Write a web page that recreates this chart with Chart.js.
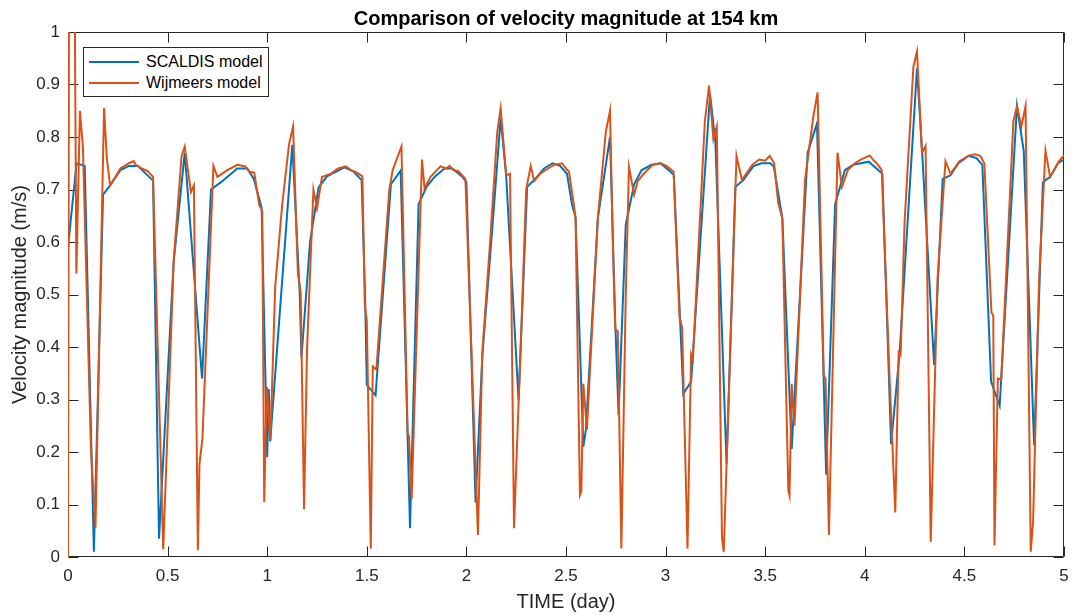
<!DOCTYPE html>
<html>
<head>
<meta charset="utf-8">
<script src="https://cdn.jsdelivr.net/npm/chart.js@4.4.1/dist/chart.umd.min.js"></script>
<style>
  html, body { margin: 0; padding: 0; background: #fff; }
  #wrap { position: relative; width: 1075px; height: 616px; font-family: "Liberation Sans", Arial, Helvetica, sans-serif; }
  #title { position: absolute; left: 0; width: 1132px; top: 7px; text-align: center; font-weight: bold; font-size: 20px; line-height: 22px; color: #000; }
  #legend { position: absolute; left: 83px; top: 47px; width: 184px; height: 48px; border: 1px solid #262626; background: #fff; font-size: 16px; color: #000; }
  .row { position: absolute; left: 0; height: 20px; width: 184px; }
  .swatch { position: absolute; left: 5px; top: 9px; width: 50px; height: 2px; }
  .lab { position: absolute; left: 62px; top: 0; line-height: 20px; white-space: nowrap; }
</style>
</head>
<body>
<div id="wrap">
  <canvas id="c" width="1075" height="616"></canvas>
  <div id="title">Comparison of velocity magnitude at 154 km</div>
  <div id="legend"></div>
</div>
<script>
// ---- Data ----
const seriesNames = ["SCALDIS model", "Wijmeers model"];
const seriesColors = ["#0072BD", "#D95319"];

const xTicks = [0, 0.5, 1, 1.5, 2, 2.5, 3, 3.5, 4, 4.5, 5];
const yTicks = [0, 0.1, 0.2, 0.3, 0.4, 0.5, 0.6, 0.7, 0.8, 0.9, 1];
const xTickLabels = ["0", "0.5", "1", "1.5", "2", "2.5", "3", "3.5", "4", "4.5", "5"];
const yTickLabels = ["0", "0.1", "0.2", "0.3", "0.4", "0.5", "0.6", "0.7", "0.8", "0.9", "1"];

const scaldisTime = [0, 0.043, 0.084, 0.118, 0.13, 0.176, 0.211, 0.263, 0.306, 0.35, 0.427, 0.457, 0.53, 0.586, 0.673, 0.718, 0.765, 0.85, 0.90, 0.933, 0.972, 1.0, 1.008, 1.015, 1.126, 1.163, 1.172, 1.215, 1.258, 1.30, 1.388, 1.43, 1.474, 1.492, 1.50, 1.544, 1.621, 1.67, 1.717, 1.76, 1.80, 1.84, 1.89, 1.93, 1.98, 2.0, 2.046, 2.08, 2.13, 2.172, 2.2, 2.262, 2.305, 2.34, 2.39, 2.432, 2.47, 2.505, 2.53, 2.548, 2.587, 2.60, 2.66, 2.721, 2.747, 2.764, 2.80, 2.842, 2.88, 2.93, 2.975, 3.041, 3.089, 3.128, 3.223, 3.25, 3.306, 3.35, 3.39, 3.44, 3.48, 3.526, 3.543, 3.586, 3.633, 3.713, 3.76, 3.806, 3.851, 3.90, 3.94, 4.02, 4.088, 4.132, 4.175, 4.262, 4.287, 4.348, 4.391, 4.43, 4.47, 4.52, 4.56, 4.59, 4.634, 4.677, 4.764, 4.798, 4.85, 4.894, 4.93, 4.97, 5.0];
const scaldisVel = [0.59, 0.75, 0.745, 0.20, 0.01, 0.69, 0.708, 0.737, 0.745, 0.745, 0.717, 0.035, 0.56, 0.77, 0.34, 0.70, 0.713, 0.74, 0.74, 0.72, 0.665, 0.19, 0.32, 0.22, 0.785, 0.505, 0.38, 0.60, 0.704, 0.725, 0.742, 0.735, 0.718, 0.488, 0.328, 0.308, 0.71, 0.736, 0.055, 0.672, 0.705, 0.724, 0.74, 0.74, 0.724, 0.714, 0.104, 0.383, 0.626, 0.836, 0.724, 0.298, 0.705, 0.718, 0.74, 0.75, 0.745, 0.73, 0.672, 0.646, 0.21, 0.243, 0.646, 0.80, 0.45, 0.27, 0.633, 0.71, 0.737, 0.747, 0.75, 0.728, 0.311, 0.334, 0.882, 0.79, 0.177, 0.705, 0.718, 0.744, 0.75, 0.75, 0.744, 0.646, 0.206, 0.77, 0.826, 0.157, 0.672, 0.737, 0.747, 0.753, 0.73, 0.215, 0.39, 0.931, 0.776, 0.366, 0.72, 0.727, 0.75, 0.764, 0.76, 0.747, 0.334, 0.288, 0.859, 0.773, 0.213, 0.714, 0.724, 0.75, 0.757];

const wijmeersTime = [0, 0.006, 0.03, 0.042, 0.06, 0.075, 0.115, 0.138, 0.181, 0.195, 0.211, 0.24, 0.263, 0.306, 0.33, 0.34, 0.37, 0.40, 0.427, 0.478, 0.531, 0.57, 0.586, 0.617, 0.632, 0.652, 0.66, 0.675, 0.73, 0.75, 0.80, 0.85, 0.89, 0.91, 0.935, 0.96, 0.975, 0.985, 0.998, 1.016, 1.04, 1.075, 1.11, 1.13, 1.154, 1.168, 1.185, 1.20, 1.232, 1.25, 1.275, 1.32, 1.355, 1.395, 1.42, 1.45, 1.478, 1.49, 1.50, 1.52, 1.53, 1.548, 1.613, 1.63, 1.674, 1.705, 1.712, 1.725, 1.777, 1.79, 1.82, 1.87, 1.90, 1.915, 1.935, 1.96, 1.995, 2.058, 2.08, 2.12, 2.155, 2.172, 2.20, 2.219, 2.239, 2.28, 2.30, 2.323, 2.34, 2.37, 2.41, 2.44, 2.48, 2.50, 2.515, 2.54, 2.548, 2.57, 2.577, 2.587, 2.605, 2.66, 2.70, 2.721, 2.735, 2.747, 2.76, 2.778, 2.80, 2.816, 2.842, 2.86, 2.89, 2.935, 2.975, 3.005, 3.04, 3.07, 3.083, 3.11, 3.128, 3.137, 3.197, 3.218, 3.24, 3.257, 3.283, 3.292, 3.356, 3.383, 3.435, 3.47, 3.50, 3.523, 3.545, 3.565, 3.586, 3.616, 3.622, 3.633, 3.647, 3.70, 3.742, 3.763, 3.794, 3.803, 3.82, 3.863, 3.885, 3.915, 3.95, 3.98, 4.025, 4.045, 4.06, 4.085, 4.125, 4.153, 4.17, 4.18, 4.20, 4.244, 4.262, 4.287, 4.305, 4.331, 4.365, 4.405, 4.43, 4.475, 4.525, 4.555, 4.58, 4.60, 4.636, 4.645, 4.651, 4.668, 4.685, 4.746, 4.764, 4.786, 4.807, 4.833, 4.845, 4.875, 4.907, 4.93, 4.975, 5.0];
const wijmeersVel = [0.0, 1.3, 1.3, 0.54, 0.85, 0.78, 0.206, 0.055, 0.855, 0.76, 0.708, 0.725, 0.74, 0.75, 0.754, 0.747, 0.74, 0.735, 0.724, 0.015, 0.567, 0.763, 0.782, 0.695, 0.708, 0.013, 0.177, 0.226, 0.745, 0.724, 0.737, 0.747, 0.744, 0.734, 0.732, 0.67, 0.66, 0.105, 0.324, 0.223, 0.514, 0.67, 0.787, 0.82, 0.54, 0.505, 0.091, 0.396, 0.70, 0.664, 0.724, 0.73, 0.74, 0.744, 0.737, 0.732, 0.725, 0.48, 0.45, 0.016, 0.363, 0.357, 0.70, 0.737, 0.782, 0.235, 0.23, 0.11, 0.757, 0.702, 0.724, 0.744, 0.74, 0.745, 0.737, 0.735, 0.72, 0.042, 0.39, 0.606, 0.81, 0.855, 0.727, 0.73, 0.055, 0.48, 0.70, 0.745, 0.716, 0.73, 0.74, 0.747, 0.75, 0.74, 0.734, 0.67, 0.646, 0.118, 0.125, 0.33, 0.243, 0.646, 0.81, 0.85, 0.60, 0.434, 0.43, 0.016, 0.50, 0.743, 0.69, 0.716, 0.73, 0.747, 0.75, 0.745, 0.734, 0.456, 0.437, 0.016, 0.386, 0.376, 0.83, 0.898, 0.796, 0.82, 0.036, 0.01, 0.764, 0.718, 0.747, 0.757, 0.755, 0.764, 0.75, 0.675, 0.645, 0.127, 0.117, 0.33, 0.25, 0.718, 0.84, 0.885, 0.345, 0.34, 0.042, 0.77, 0.705, 0.737, 0.75, 0.757, 0.765, 0.755, 0.75, 0.737, 0.334, 0.085, 0.39, 0.385, 0.64, 0.934, 0.963, 0.77, 0.783, 0.029, 0.53, 0.754, 0.73, 0.754, 0.765, 0.767, 0.764, 0.75, 0.465, 0.46, 0.022, 0.34, 0.338, 0.83, 0.859, 0.82, 0.859, 0.01, 0.068, 0.53, 0.774, 0.724, 0.754, 0.765];

// ---- Build ----
const toPoints = (ts, vs) => ts.map((t, i) => ({ x: t, y: vs[i] }));

const legendEl = document.getElementById('legend');
seriesNames.forEach((name, i) => {
  const row = document.createElement('div');
  row.className = 'row';
  row.style.top = (4 + i * 21) + 'px';
  row.innerHTML = '<div class="swatch" style="background:' + seriesColors[i] + '"></div><div class="lab">' + name + '</div>';
  legendEl.appendChild(row);
});

const boxTicks = {
  id: 'boxTicks',
  beforeDatasetsDraw(chart) {
    const { ctx, chartArea: a, scales: { x, y } } = chart;
    ctx.save();
    ctx.strokeStyle = '#262626';
    ctx.lineWidth = 1;
    ctx.beginPath();
    const L = Math.round(a.left) + 0.5, R = Math.round(a.right) - 0.5;
    const T = Math.round(a.top) + 0.5, B = Math.round(a.bottom) - 0.5;
    ctx.rect(L, T, R - L, B - T);
    const len = 10;
    xTicks.forEach(v => {
      const px = Math.round(x.getPixelForValue(v)) + 0.5;
      ctx.moveTo(px, B); ctx.lineTo(px, B - len);
      ctx.moveTo(px, T); ctx.lineTo(px, T + len);
    });
    yTicks.forEach(v => {
      const py = Math.round(y.getPixelForValue(v)) + 0.5;
      ctx.moveTo(L, py); ctx.lineTo(L + len, py);
      ctx.moveTo(R, py); ctx.lineTo(R - len, py);
    });
    ctx.stroke();
    ctx.restore();
  }
};

const tickFont = { family: '"Liberation Sans", Arial, Helvetica, sans-serif', size: 17 };
const axisTitleFont = { family: '"Liberation Sans", Arial, Helvetica, sans-serif', size: 20 };

new Chart(document.getElementById('c'), {
  type: 'line',
  data: {
    datasets: [
      { label: seriesNames[0], data: toPoints(scaldisTime, scaldisVel), borderColor: seriesColors[0], backgroundColor: seriesColors[0], borderWidth: 2, pointRadius: 0, tension: 0, order: 2 },
      { label: seriesNames[1], data: toPoints(wijmeersTime, wijmeersVel), borderColor: seriesColors[1], backgroundColor: seriesColors[1], borderWidth: 2, pointRadius: 0, tension: 0, order: 1 }
    ]
  },
  options: {
    responsive: false,
    animation: false,
    devicePixelRatio: 1,
    layout: { padding: { top: 32, right: 11, left: 0, bottom: 0 } },
    plugins: { legend: { display: false }, title: { display: false }, tooltip: { enabled: false } },
    scales: {
      x: {
        type: 'linear', min: 0, max: 5,
        afterBuildTicks: s => { s.ticks = xTicks.map(v => ({ value: v })); },
        afterFit: s => { s.height = 59; s.paddingLeft = 0; s.paddingRight = 0; },
        grid: { display: false, drawTicks: false },
        border: { display: false },
        ticks: { color: '#262626', font: tickFont, padding: 9, maxRotation: 0, autoSkip: false,
                 callback: (v) => { const i = xTicks.indexOf(v); return i >= 0 ? xTickLabels[i] : ''; } },
        title: { display: true, text: 'TIME (day)', color: '#262626', font: axisTitleFont, padding: { top: 0, bottom: 2 } }
      },
      y: {
        type: 'linear', min: 0, max: 1,
        afterBuildTicks: s => { s.ticks = yTicks.map(v => ({ value: v })); },
        afterFit: s => { s.width = 68; s.paddingTop = 0; s.paddingBottom = 0; },
        grid: { display: false, drawTicks: false },
        border: { display: false },
        ticks: { color: '#262626', font: tickFont, padding: 8, autoSkip: false,
                 callback: (v) => { const i = yTicks.indexOf(v); return i >= 0 ? yTickLabels[i] : ''; } },
        title: { display: true, text: 'Velocity magnitude (m/s)', color: '#262626', font: axisTitleFont, padding: { top: 8, bottom: 0 } }
      }
    }
  },
  plugins: [boxTicks]
});
</script>
</body>
</html>
